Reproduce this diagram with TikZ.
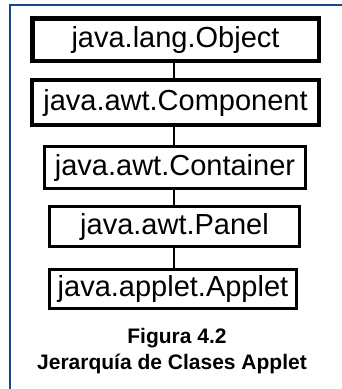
\documentclass[tikz,border=0pt]{standalone}
\usepackage{fontspec}
\setmainfont{Liberation Sans}
\begin{document}
\begin{tikzpicture}[x=1pt,y=-1pt,
  classbox/.style={draw=black, fill=white, inner sep=0pt, font=\fontsize{29}{32}\selectfont},
  link/.style={draw=black, line width=2.5pt},
  caption/.style={anchor=base, inner sep=0pt, font=\bfseries\fontsize{21}{24}\selectfont}]
\useasboundingbox (0,0) rectangle (342,389);
\fill[white] (0,0) rectangle (342,389);
% frame
\draw[line width=2.5pt, color={rgb,255:red,24;green,72;blue,140}] (342,5) -- (10,5) -- (10,389);
% class boxes
\node[classbox, line width=4.5pt, minimum width=286.5pt, minimum height=42.5pt] (obj) at (175.5,39.5) {java.lang.Object};
\node[classbox, line width=4pt, minimum width=287pt, minimum height=45pt] (comp) at (175.5,102.5) {java.awt.Component};
\node[classbox, line width=3pt, minimum width=261pt, minimum height=42pt] (cont) at (175,167.5) {java.awt.Container};
\node[classbox, line width=3pt, minimum width=250pt, minimum height=40pt] (panel) at (174.5,226.5) {java.awt.Panel};
\node[classbox, line width=3pt, minimum width=247pt, minimum height=39pt] (applet) at (173,289) {java.applet.Applet};
% inheritance links
\coordinate (axis) at (174,0);
\draw[link] (obj.south -| axis) -- (comp.north -| axis);
\draw[link] (comp.south -| axis) -- (cont.north -| axis);
\draw[link] (cont.south -| axis) -- (panel.north -| axis);
\draw[link] (panel.south -| axis) -- (applet.north -| axis);
% caption
\node[caption] (fig) at (177,343) {Figura 4.2};
\node[caption] (title) at (172,369) {Jerarquía de Clases Applet};
\end{tikzpicture}
\end{document}
